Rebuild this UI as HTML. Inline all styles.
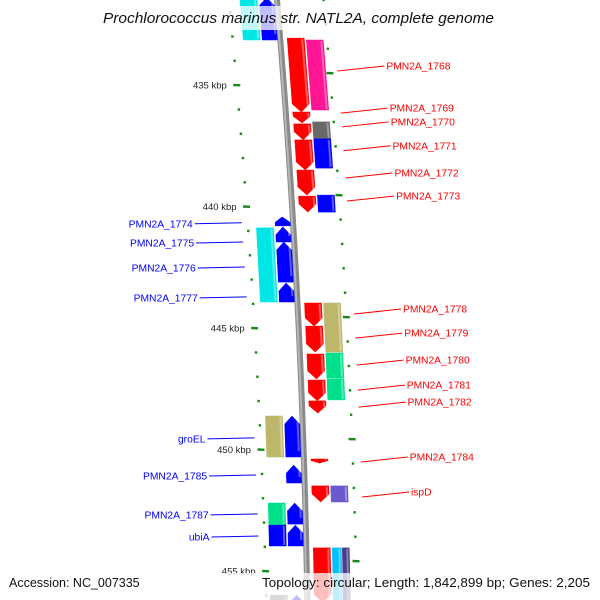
<!DOCTYPE html>
<html><head><meta charset="utf-8">
<style>
html,body{margin:0;padding:0;background:#fff;}
svg{display:block;font-family:"Liberation Sans",sans-serif;}
</style></head>
<body>
<svg id="map" width="600" height="600" viewBox="0 0 600 600">
<g id="ticks"></g>
<g id="backbone"></g>
<g id="genes"></g>
<g id="labels"></g>
<rect x="95" y="6" width="410" height="24" fill="#fff" fill-opacity="0.75"/>
<text x="103" y="23" textLength="391" lengthAdjust="spacingAndGlyphs" font-size="15" font-style="italic" fill="#111">Prochlorococcus marinus str. NATL2A, complete genome</text>
<rect x="0" y="573" width="600" height="27" fill="#fff" fill-opacity="0.75"/>
<text x="9" y="587" font-size="12.5" fill="#111">Accession: NC_007335</text>
<text x="262" y="587" textLength="328" lengthAdjust="spacingAndGlyphs" font-size="13" fill="#111">Topology: circular; Length: 1,842,899 bp; Genes: 2,205</text>
</svg>
<script>
// kbp positions of genes (offset from 435 kbp tick)
const geneStart = [-3.6,-3.6,-1.93,-1.85,1.11,1.60,1.52,2.26,2.22,3.50,4.57,4.53,5.43,5.84,6.46,5.88,8.15,8.97,8.97,9.92,11.07,11.03,12.14,12.10,13.00,13.62,13.62,15.39,15.64,16.50,16.50,17.20,17.20,18.11,18.11,19.05,19.05,19.05,21.0,21.0];
const geneEnd   = [-1.85,-1.85,1.11,1.03,1.56,2.26,2.22,3.50,3.42,4.53,5.23,5.23,5.80,6.46,8.11,8.93,8.93,9.92,10.99,10.99,12.10,12.06,13.00,12.96,13.50,15.31,15.31,15.56,16.38,17.16,17.16,18.07,18.11,18.97,18.97,21.3,21.3,21.3,21.5,21.5];
const geneStrand= [1,1,-1,-1,-1,-1,-1,-1,-1,-1,-1,-1,1,1,1,1,1,-1,-1,-1,-1,-1,-1,-1,-1,1,1,-1,1,-1,-1,1,1,1,1,-1,-1,-1,1,1];
const geneRing  = [0,1,0,1,0,0,1,0,1,0,0,1,0,0,0,1,0,0,1,0,0,1,0,1,0,0,1,0,0,0,1,0,1,0,1,0,1,2,0,1];
const geneColor = ["#0000ff","#00e5e5","#ff0000","#ff1493","#ff0000","#ff0000","#696969","#ff0000","#0000ff","#ff0000","#ff0000","#0000ff","#0000ff","#0000ff","#0000ff","#00e5e5","#0000ff","#ff0000","#bdb76b","#ff0000","#ff0000","#00e08a","#ff0000","#00e08a","#ff0000","#0000ff","#bdb76b","#ff0000","#0000ff","#ff0000","#6a5acd","#0000ff","#00e08a","#0000ff","#0000ff","#ff0000","#00bfff","#483d8b","#0000ff","#696969"];
const labelText = ["PMN2A_1768","PMN2A_1769","PMN2A_1770","PMN2A_1771","PMN2A_1772","PMN2A_1773","PMN2A_1774","PMN2A_1775","PMN2A_1776","PMN2A_1777","PMN2A_1778","PMN2A_1779","PMN2A_1780","PMN2A_1781","PMN2A_1782","groEL","PMN2A_1784","PMN2A_1785","ispD","PMN2A_1787","ubiA"];
const labelKbp  = [-0.78,0.95,1.52,2.50,3.62,4.57,5.67,6.46,7.49,8.72,9.22,10.21,11.32,12.35,13.05,14.52,15.31,16.05,16.75,17.65,18.56];
const labelSide = [1,1,1,1,1,1,-1,-1,-1,-1,1,1,1,1,1,-1,1,-1,1,-1,-1];
const tickKbp = [435,440,445,450,455];

const NS="http://www.w3.org/2000/svg";
function yOf(k){return 85+k*24.3;}
function bb(y){return 277+0.085*y-0.0000575*y*y;}
function mk(tag,attrs,parent){const e=document.createElementNS(NS,tag);for(const a in attrs)e.setAttribute(a,attrs[a]);parent.appendChild(e);return e;}

// backbone
const bbg=document.getElementById('backbone');
let pts=[];for(let y=-5;y<=605;y+=5)pts.push(bb(y)+','+y);
const bl=mk('polyline',{points:pts.join(' '),fill:'none',stroke:'#8a8a8a','stroke-width':6},bbg);


const bl2=mk('polyline',{points:pts.map(p=>{const [x,y]=p.split(',');return (+x-1)+','+y;}).join(' '),fill:'none',stroke:'#b5b5b5','stroke-width':2},bbg);



// ticks
const tg=document.getElementById('ticks');
function lt(y){return bb(y)-47+(y-85)*0.012;}
function rt(y){return bb(y)+47+(y-72)*0.005;}
for(let k=-4;k<=22;k++){
  const y=yOf(k); const major=(k%5===0);
  const ry=y-12+k*0.1;
  const x1=lt(y), x2=rt(ry);
  const L=mk('line',{x1:x1-(major?3.5:1.2),y1:y,x2:x1+(major?3.5:1.2),y2:y+0.3,stroke:'#1a8a1a','stroke-width':2.4},tg);
  
  
  const R=mk('line',{x1:x2-(major?3.5:1.2),y1:ry,x2:x2+(major?3.5:1.2),y2:ry+0.3,stroke:'#1a8a1a','stroke-width':2.4},tg);
  
  
}
tickKbp.forEach((kb,i)=>{
  const y=yOf(kb-435);
  const t=mk('text',{x:lt(y)-10,y:y+3.5,'text-anchor':'end','font-size':9.5,fill:'#222'},tg);
  t.textContent=kb+' kbp';
  
  
});

// genes
const gg=document.getElementById('genes');
const ringOff={'-1_0':[7,24],'-1_1':[26,43],'-1_2':[36,43],'1_0':[-18,-3],'1_1':[-37,-20]};
geneStart.forEach((s,i)=>{
  const st=geneStrand[i], rg=geneRing[i];
  let off=ringOff[st+'_'+rg];
  if(st===-1&&rg===1&&geneColor[i]==='#00bfff')off=[26,35];
  const y1=yOf(s), y2=yOf(geneEnd[i]);
  const o1=off[0],o2=off[1];
  let p;
  if(rg===0){
    const h=Math.min(8,(y2-y1)*0.6);
    if(st===-1){
      const ya=y2-h; const mx=(o1+o2)/2;
      p=[[bb(y1)+o1,y1],[bb(y1)+o2,y1],[bb(ya)+o2,ya],[bb(y2)+mx,y2],[bb(ya)+o1,ya]];
    }else{
      const ya=y1+h; const mx=(o1+o2)/2;
      p=[[bb(y1)+mx,y1],[bb(ya)+o2,ya],[bb(y2)+o2,y2],[bb(y2)+o1,y2],[bb(ya)+o1,ya]];
    }
  }else{
    p=[[bb(y1)+o1,y1],[bb(y1)+o2,y1],[bb(y2)+o2,y2],[bb(y2)+o1,y2]];
  }
  const g=mk('polygon',{points:p.map(q=>q[0].toFixed(1)+','+q[1].toFixed(1)).join(' '),fill:geneColor[i],stroke:geneColor[i],'stroke-width':0.5},gg);
  
  
  const hl=mk('line',{x1:bb(y1)+o2-2,y1:y1+1,x2:bb(y2)+o2-2,y2:y2-(rg===0?6:1),stroke:'#fff','stroke-opacity':0.35,'stroke-width':2},gg);
  
  
});

// labels
const lg=document.getElementById('labels');
labelText.forEach((t,i)=>{
  const y=yOf(labelKbp[i]); const side=labelSide[i];
  const col=side===1?'#ff0000':'#0000ff';
  let ax,ay,tx,ty;
  if(side===1){ax=rt(y)+8; ay=y+5; tx=ax+47; ty=y;}
  else{ax=lt(y)-6; ay=y; tx=ax-47; ty=y+1;}
  const ln=mk('line',{x1:ax,y1:ay,x2:tx,y2:ty,stroke:col,'stroke-width':1},lg);
  
  
  const tt=mk('text',{x:side===1?tx+2:tx-2,y:ty+3.5,'text-anchor':side===1?'start':'end','font-size':10.3,fill:col},lg);
  tt.textContent=t;
  
  
});
</script>
</body></html>
